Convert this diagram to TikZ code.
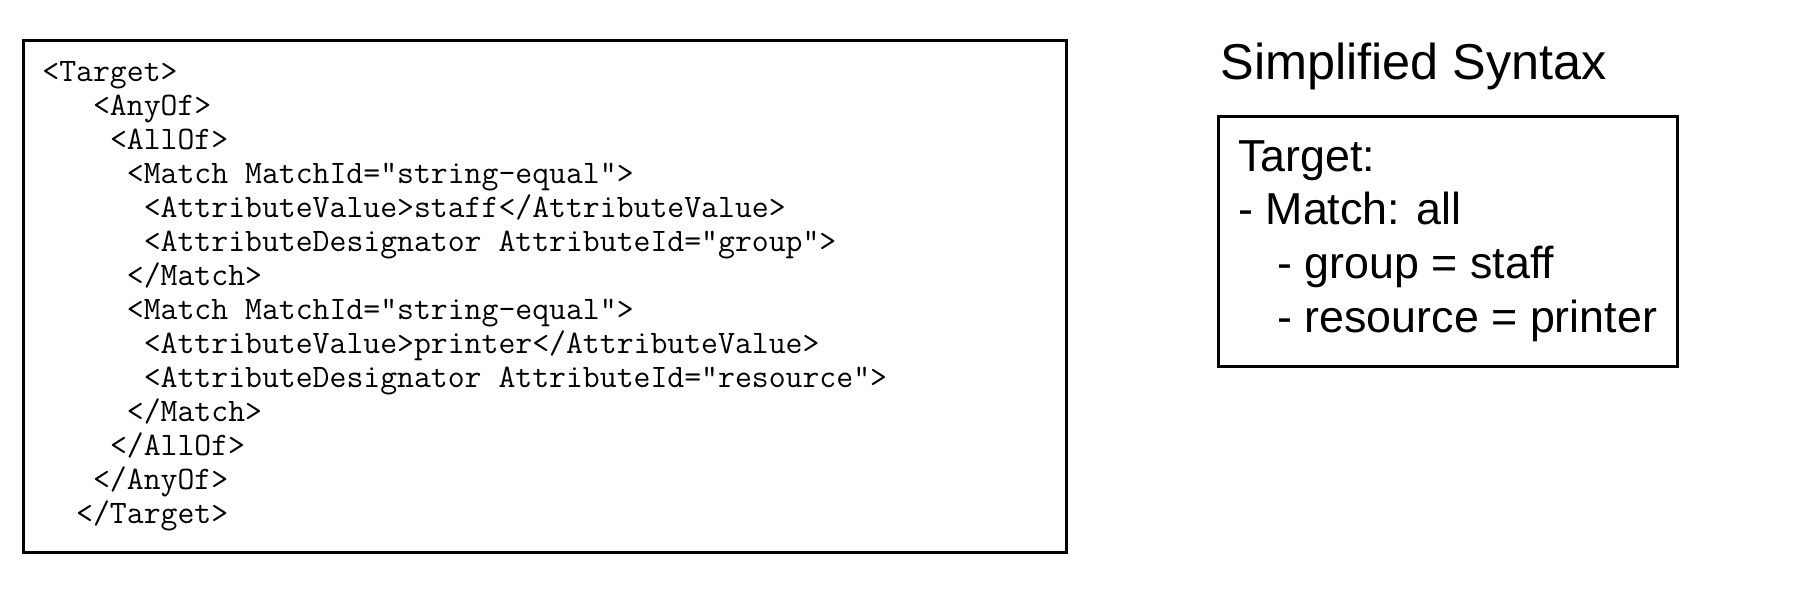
\documentclass[tikz,border=0pt]{standalone}
\usepackage{fontspec}
\setmainfont{Liberation Sans}

\tikzset{
  codeline/.style={anchor=base west, inner sep=0pt, font=\ttfamily\fontsize{16.4}{19}\selectfont},
  syntaxline/.style={anchor=base west, inner sep=0pt, font=\fontsize{22.4}{27}\selectfont},
  frame/.style={draw, line width=1.5pt}
}

\begin{document}
\begin{tikzpicture}[x=0.5pt, y=-0.5pt]

    \useasboundingbox (0,0) rectangle (1800,616);

    % XML box
    \draw[frame] (23,40.5) rectangle (1066,552);
    \node[codeline] (c1)  at (42+0*16.9, 81.7+0*33.95)  {<Target>};
    \node[codeline] (c2)  at (42+3*16.9, 81.7+1*33.95)  {<AnyOf>};
    \node[codeline] (c3)  at (42+4*16.9, 81.7+2*33.95)  {<AllOf>};
    \node[codeline] (c4)  at (42+5*16.9, 81.7+3*33.95)  {<Match MatchId="string-equal">};
    \node[codeline] (c5)  at (42+6*16.9, 81.7+4*33.95)  {<AttributeValue>staff</AttributeValue>};
    \node[codeline] (c6)  at (42+6*16.9, 81.7+5*33.95)  {<AttributeDesignator AttributeId="group">};
    \node[codeline] (c7)  at (42+5*16.9, 81.7+6*33.95)  {</Match>};
    \node[codeline] (c8)  at (42+5*16.9, 81.7+7*33.95)  {<Match MatchId="string-equal">};
    \node[codeline] (c9)  at (42+6*16.9, 81.7+8*33.95)  {<AttributeValue>printer</AttributeValue>};
    \node[codeline] (c10) at (42+6*16.9, 81.7+9*33.95)  {<AttributeDesignator AttributeId="resource">};
    \node[codeline] (c11) at (42+5*16.9, 81.7+10*33.95) {</Match>};
    \node[codeline] (c12) at (42+4*16.9, 81.7+11*33.95) {</AllOf>};
    \node[codeline] (c13) at (42+3*16.9, 81.7+12*33.95) {</AnyOf>};
    \node[codeline] (c14) at (42+2*16.9, 81.7+13*33.95) {</Target>};

    % Simplified syntax
    \node[anchor=base west, inner sep=0pt, font=\fontsize{25.2}{30}\selectfont] (title) at (1220,79) {Simplified Syntax};
    \draw[frame] (1218,116) rectangle (1677,366);
    \node[syntaxline] (s1) at (1238,171) {Target:};
    \node[syntaxline] (s2) at (1238,224) {- Match: all};
    \node[syntaxline] (s3) at (1277,278) {- group = staff};
    \node[syntaxline] (s4) at (1277,332) {- resource = printer};

\end{tikzpicture}
\end{document}
